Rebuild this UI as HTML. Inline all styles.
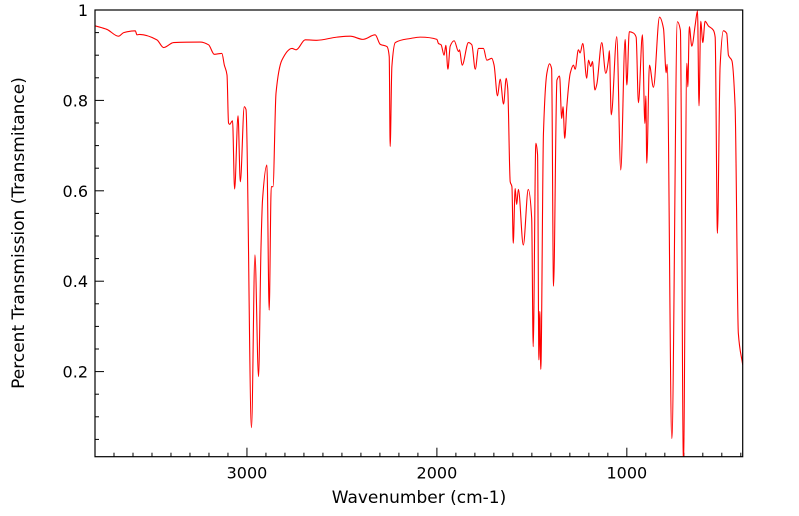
<!DOCTYPE html>
<html><head><meta charset="utf-8"><style>
html,body{margin:0;padding:0;background:#fff;}
svg{display:block;font-family:"DejaVu Sans","Liberation Sans",sans-serif;}
</style></head><body>
<svg id="chart" width="799" height="516" viewBox="0 0 799 516">
<defs><clipPath id="plotclip"><rect x="95" y="10" width="648" height="447"/></clipPath></defs>
<g id="axes"></g>
<path id="spectrum" fill="none" stroke="#ff0000" stroke-width="1.1" clip-path="url(#plotclip)"/>
<rect x="95" y="10" width="647.7" height="446.7" fill="none" stroke="#000" stroke-width="1.2"/>
<text x="419" y="503" font-size="17" text-anchor="middle">Wavenumber (cm-1)</text>
<text transform="translate(24,233) rotate(-90)" font-size="17" text-anchor="middle">Percent Transmission (Transmitance)</text>
</svg>
<script>
var wavenumbers=[3800,3737,3676,3649,3588,3579,3565,3474,3439,3386,3246,3202,3172,3132,3119,3105,3097,3091,3076,3065,3047,3035,3014,3005,2976,2958,2939,2926,2918,2895,2883,2872,2863,2847,2816,2763,2741,2693,2632,2526,2456,2389,2325,2298,2263,2251,2246,2237,2219,2140,2088,2000,1992,1978,1962,1953,1942,1930,1909,1886,1881,1867,1834,1816,1798,1781,1755,1737,1711,1699,1681,1667,1649,1635,1627,1614,1605,1598,1588,1580,1571,1545,1519,1501,1493,1479,1470,1463,1458,1453,1439,1421,1407,1396,1386,1368,1354,1343,1336,1327,1316,1298,1281,1272,1255,1246,1232,1211,1202,1190,1181,1168,1158,1132,1111,1097,1092,1082,1053,1032,1009,1000,987,965,951,939,918,905,900,895,881,860,828,807,793,788,763,734,718,702,684,679,671,658,640,628,620,611,600,588,571,544,535,523,509,492,474,465,447,430,413,390];
var transmittance=[0.965,0.957,0.942,0.950,0.954,0.945,0.946,0.934,0.917,0.928,0.929,0.923,0.902,0.904,0.878,0.856,0.750,0.747,0.755,0.604,0.766,0.620,0.786,0.780,0.076,0.458,0.189,0.476,0.580,0.657,0.336,0.609,0.609,0.816,0.889,0.915,0.912,0.934,0.933,0.940,0.942,0.935,0.945,0.924,0.919,0.897,0.698,0.875,0.928,0.937,0.940,0.935,0.926,0.923,0.900,0.922,0.869,0.920,0.932,0.908,0.912,0.878,0.928,0.923,0.869,0.915,0.915,0.889,0.893,0.878,0.810,0.847,0.792,0.849,0.826,0.620,0.609,0.484,0.605,0.570,0.603,0.480,0.603,0.539,0.255,0.705,0.680,0.226,0.333,0.205,0.727,0.860,0.881,0.870,0.389,0.845,0.854,0.760,0.786,0.716,0.786,0.860,0.878,0.869,0.912,0.905,0.926,0.849,0.889,0.875,0.886,0.823,0.836,0.928,0.860,0.889,0.910,0.768,0.941,0.646,0.935,0.834,0.952,0.949,0.940,0.795,0.945,0.749,0.810,0.661,0.878,0.829,0.984,0.959,0.861,0.880,0.052,0.974,0.955,0.0,0.882,0.830,0.963,0.920,0.967,0.998,0.788,0.975,0.928,0.975,0.965,0.955,0.940,0.506,0.875,0.954,0.948,0.900,0.888,0.786,0.285,0.215];
var xTickValues=[3000,2000,1000];
var xTickLabels=["3000","2000","1000"];
var yTickValues=[0.2,0.4,0.6,0.8,1];
var yTickLabels=["0.2","0.4","0.6","0.8","1"];

var X0=95,X1=742.7,Y0=10,Y1=456.7;
var WMAX=3800,WMIN=390;
function xs(w){return X0+(WMAX-w)/(WMAX-WMIN)*(X1-X0);}
function ys(v){return Y0+(1-v)*452;}
var NS="http://www.w3.org/2000/svg";
var axes=document.getElementById('axes');
function line(x1,y1,x2,y2,name){var l=document.createElementNS(NS,'line');l.setAttribute('x1',x1);l.setAttribute('y1',y1);l.setAttribute('x2',x2);l.setAttribute('y2',y2);l.setAttribute('stroke','#000');l.setAttribute('stroke-width','1');


axes.appendChild(l);}
function text(x,y,s,anchor,name){var t=document.createElementNS(NS,'text');t.setAttribute('x',x);t.setAttribute('y',y);t.setAttribute('font-size','16');t.setAttribute('text-anchor',anchor);t.textContent=s;


axes.appendChild(t);}
for(var w=3700;w>=400;w-=100){var major=(w%1000===0);line(xs(w),Y1,xs(w),Y1-(major?9:4),major?'x-major-tick':'x-minor-tick');}
for(var i=0;i<xTickValues.length;i++){text(xs(xTickValues[i]),Y1+22,xTickLabels[i],'middle','x-tick-label');}
for(var k=1;k<=20;k++){var v=k*0.05;var major=(k%4===0);line(X0,ys(v),X0+(major?9:4),ys(v),major?'y-major-tick':'y-minor-tick');}
for(var j=0;j<yTickValues.length;j++){text(X0-7,ys(yTickValues[j])+6,yTickLabels[j],'end','y-tick-label');}

// monotone cubic interpolation through points
var px=[],py=[];
for(var n=0;n<wavenumbers.length;n++){px.push(xs(wavenumbers[n]));py.push(ys(transmittance[n]));}
var N=px.length,dl=[],m=[];
for(var a=0;a<N-1;a++){dl.push((py[a+1]-py[a])/(px[a+1]-px[a]));}
m[0]=dl[0];m[N-1]=dl[N-2];
for(var a=1;a<N-1;a++){
  if(dl[a-1]*dl[a]<=0){m[a]=0;}
  else{var h0=px[a]-px[a-1],h1=px[a+1]-px[a];var w1=2*h1+h0,w2=h1+2*h0;m[a]=(w1+w2)/(w1/dl[a-1]+w2/dl[a]);}
}
var d='M'+px[0].toFixed(2)+','+py[0].toFixed(2);
for(var a=0;a<N-1;a++){
  var h=px[a+1]-px[a];
  d+='C'+(px[a]+h/3).toFixed(2)+','+(py[a]+m[a]*h/3).toFixed(2)+' '+(px[a+1]-h/3).toFixed(2)+','+(py[a+1]-m[a+1]*h/3).toFixed(2)+' '+px[a+1].toFixed(2)+','+py[a+1].toFixed(2);
}
document.getElementById('spectrum').setAttribute('d',d);
</script>
</body></html>
